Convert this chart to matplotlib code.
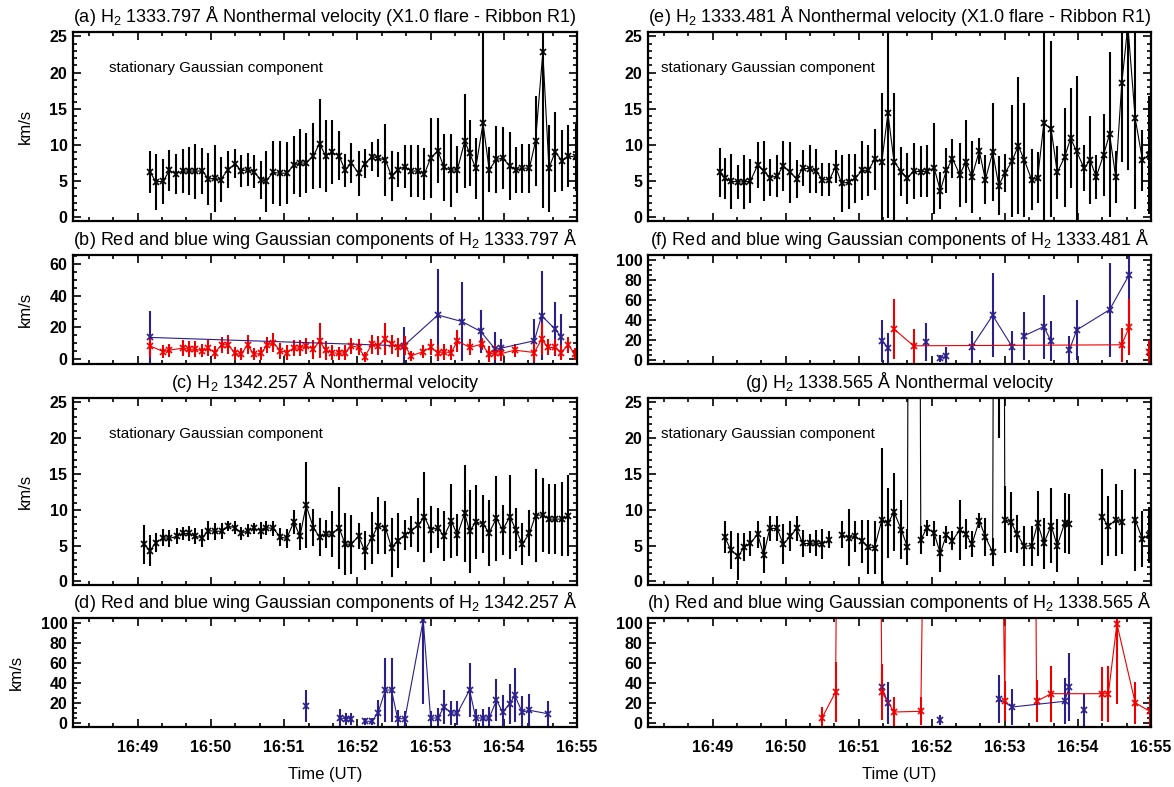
import numpy as np
import matplotlib
matplotlib.use('Agg')
import matplotlib.pyplot as plt
from matplotlib.ticker import MultipleLocator, FuncFormatter

plt.rcParams['font.family'] = ['Liberation Sans', 'DejaVu Sans']
plt.rcParams['mathtext.fontset'] = 'custom'
plt.rcParams['mathtext.rm'] = 'Liberation Sans'
plt.rcParams['mathtext.it'] = 'Liberation Sans:italic'
plt.rcParams['mathtext.bf'] = 'Liberation Sans:bold'

# ---------------- data ----------------
titles = [
    "(a) H$_2$ 1333.797 Å Nonthermal velocity (X1.0 flare - Ribbon R1)",
    "(b) Red and blue wing Gaussian components of H$_2$ 1333.797 Å",
    "(c) H$_2$ 1342.257 Å Nonthermal velocity",
    "(d) Red and blue wing Gaussian components of H$_2$ 1342.257 Å",
    "(e) H$_2$ 1333.481 Å Nonthermal velocity (X1.0 flare - Ribbon R1)",
    "(f) Red and blue wing Gaussian components of H$_2$ 1333.481 Å",
    "(g) H$_2$ 1338.565 Å Nonthermal velocity",
    "(h) Red and blue wing Gaussian components of H$_2$ 1338.565 Å",
]
annot = "stationary Gaussian component"
xtick_labels = ["16:49", "16:50", "16:51", "16:52", "16:53", "16:54", "16:55"]

# (a) stationary component, H2 1333.797
a_t = ["16:49:10","16:49:15","16:49:21","16:49:26","16:49:31","16:49:37","16:49:42","16:49:47","16:49:53","16:49:58",
       "16:50:03","16:50:08","16:50:14","16:50:20","16:50:25","16:50:30","16:50:35","16:50:41","16:50:45","16:50:51",
       "16:50:57","16:51:02","16:51:08","16:51:13","16:51:18","16:51:24","16:51:29","16:51:34","16:51:39","16:51:45",
       "16:51:50","16:51:55","16:52:01","16:52:06","16:52:12","16:52:17","16:52:23","16:52:28","16:52:33","16:52:39",
       "16:52:44","16:52:50","16:52:55","16:53:00","16:53:06","16:53:11","16:53:17","16:53:22","16:53:28","16:53:32",
       "16:53:37","16:53:43","16:53:48","16:53:54","16:53:59","16:54:05","16:54:10","16:54:15","16:54:21","16:54:26",
       "16:54:32","16:54:37","16:54:42","16:54:48","16:54:53","16:54:59"]
a_v = [6.3,4.9,5.0,6.5,6.0,6.4,6.4,6.4,6.4,5.3, 5.4,5.2,6.6,7.4,6.4,6.6,6.3,5.2,5.0,6.2,
       6.1,6.1,7.2,7.5,7.5,8.5,10.2,8.5,9.0,8.5, 6.5,7.5,6.1,7.4,8.4,8.2,7.9,5.7,6.6,7.0,
       6.4,6.4,6.0,8.2,9.2,6.9,6.5,6.6,10.5,8.9, 6.8,13.0,6.6,8.0,8.2,7.1,6.5,6.8,6.8,10.5,
       22.8,6.8,9.0,7.8,8.5,8.3]
a_e = [2.9,3.9,3.1,2.8,2.8,3.1,3.3,3.8,3.2,3.6, 4.6,3.1,2.5,2.0,2.2,2.3,2.3,2.6,4.2,4.3,
       4.5,4.3,4.0,4.7,4.1,4.6,6.2,5.0,4.4,3.4, 2.3,2.8,3.1,2.0,2.0,2.6,5.0,3.5,2.4,3.0,
       3.6,3.6,3.6,5.5,4.5,4.6,5.0,3.2,6.5,4.5, 4.2,14.0,3.1,4.6,4.3,4.7,3.2,3.4,3.4,6.2,
       21.5,6.0,5.5,4.2,4.3,4.6]

# (b) wing components, H2 1333.797
b_blue_t = ["16:49:10","16:52:38","16:53:06","16:53:26","16:53:41","16:53:53","16:53:58","16:54:25","16:54:31","16:54:42","16:54:47"]
b_blue_v = [13.7,8.4,27.8,23.6,17.5,6.3,7.0,11.6,27.4,19.0,14.1]
b_blue_e = [16.5,11.6,29.0,25.0,13.4,10.5,5.8,13.7,28.0,16.8,14.2]
b_red_t = ["16:49:10","16:49:21","16:49:26","16:49:37","16:49:42","16:49:47","16:49:53","16:49:58","16:50:03","16:50:09",
           "16:50:14","16:50:20","16:50:25","16:50:30","16:50:35","16:50:41","16:50:46","16:50:51","16:50:57","16:51:02",
           "16:51:08","16:51:13","16:51:18","16:51:24","16:51:29","16:51:34","16:51:39","16:51:45","16:51:50","16:51:55",
           "16:52:01","16:52:06","16:52:12","16:52:17","16:52:23","16:52:28","16:52:33","16:52:39","16:52:44","16:52:54",
           "16:53:00","16:53:06","16:53:11","16:53:17","16:53:22","16:53:32","16:53:42","16:53:48","16:53:53","16:53:58",
           "16:54:09","16:54:25","16:54:31","16:54:36","16:54:42","16:54:47","16:54:53","16:54:58"]
b_red_v = [8.4,4.8,5.7,7.0,6.3,6.3,5.3,7.0,4.2,9.1, 9.1,3.6,3.2,9.1,3.2,3.6,8.8,10.5,5.3,4.2,
           7.0,7.0,8.4,6.3,11.6,5.7,4.2,3.6,4.2,8.4, 7.4,1.5,9.5,8.4,12.6,9.5,7.4,8.4,2.1,4.8,
           7.4,4.2,4.6,4.2,11.6,7.4,9.5,3.2,4.2,3.6, 5.7,4.2,12.6,7.4,7.4,4.2,9.1,3.2]
b_red_e = [7,4,4,5,5,5,4,5,4,5, 6,4,4,6,4,4,5,6,5,5,
           5,5,5,6,11,6,5,4,5,5, 5,3,6,6,10,6,6,6,3,4,
           5,5,5,5,7,5,4,5,5,5, 4,6,10,5,5,5,5,4]

# (c) stationary component, H2 1342.257
c_t = ["16:49:05","16:49:10","16:49:15","16:49:21","16:49:26","16:49:32","16:49:37","16:49:42","16:49:47","16:49:53",
       "16:49:58","16:50:03","16:50:09","16:50:14","16:50:20","16:50:25","16:50:30","16:50:35","16:50:41","16:50:45",
       "16:50:51","16:50:57","16:51:02","16:51:08","16:51:13","16:51:18","16:51:24","16:51:29","16:51:34","16:51:39",
       "16:51:45","16:51:50","16:51:55","16:52:01","16:52:06","16:52:12","16:52:17","16:52:23","16:52:28","16:52:33",
       "16:52:39","16:52:44","16:52:50","16:52:55","16:53:00","16:53:06","16:53:11","16:53:17","16:53:22","16:53:28",
       "16:53:32","16:53:37","16:53:43","16:53:48","16:53:54","16:53:59","16:54:05","16:54:10","16:54:15","16:54:21",
       "16:54:26","16:54:32","16:54:37","16:54:42","16:54:48","16:54:53"]
c_v = [5.2,4.3,5.4,6.1,6.0,6.3,6.7,6.7,6.3,6.1, 7.1,7.0,7.0,7.7,7.5,6.7,7.1,7.4,7.1,7.5,
       7.4,6.2,6.0,8.3,6.3,10.6,7.5,6.2,6.6,6.6, 7.5,5.2,5.2,6.3,4.3,6.1,7.8,7.5,4.7,5.7,
       6.5,7.0,7.9,9.0,7.2,7.5,6.3,8.4,6.5,9.5, 7.0,8.3,8.0,6.8,8.8,7.2,9.0,7.2,5.2,6.7,
       9.2,9.3,8.7,8.7,8.7,9.2]
c_e = [2.7,2.2,1.3,1.2,1.2,1.1,0.9,1.0,1.1,1.25, 1.3,1.2,1.1,0.7,0.9,0.9,0.9,0.8,1.2,1.0,
       1.1,1.3,1.3,1.7,1.9,6.0,2.6,2.6,2.0,3.2, 5.7,4.3,4.1,1.8,2.7,3.6,4.0,3.7,4.1,3.8,
       2.1,2.2,3.8,6.3,3.3,2.8,3.5,5.2,2.9,6.8, 5.8,5.2,4.1,4.6,5.9,3.5,5.9,3.0,2.9,3.2,
       6.5,5.2,4.9,4.9,5.2,5.6]

# (d) wing components, H2 1342.257 (blue only; None = no fit)
d_blue_t = ["16:51:18","16:51:35","16:51:46","16:51:51","16:51:55","16:52:00","16:52:06","16:52:12","16:52:17","16:52:23",
            "16:52:28","16:52:33","16:52:39","16:52:54","16:53:00","16:53:06","16:53:11","16:53:17","16:53:22","16:53:32",
            "16:53:37","16:53:43","16:53:48","16:53:54","16:53:59","16:54:05","16:54:09","16:54:15","16:54:21","16:54:36"]
d_blue_v = [17.0,None,5.0,4.3,4.3,None,1.7,1.7,10.3,33.0, 33.0,4.3,4.3,103.0,5.0,5.0,16.0,10.0,10.0,33.0,
            5.0,5.0,5.0,22.7,11.0,19.3,27.7,11.0,12.7,9.3]
d_blue_e = [16,None,9,6,6,None,3.5,3.5,13,32, 32,9,8,84,7,10,17,12,12,27,
            9,9,11,21,17,20,27,16,16,13]

# (e) stationary component, H2 1333.481
e_t = ["16:49:06","16:49:10","16:49:15","16:49:21","16:49:26","16:49:31","16:49:37","16:49:42","16:49:47","16:49:53",
       "16:49:58","16:50:04","16:50:09","16:50:14","16:50:20","16:50:25","16:50:30","16:50:36","16:50:41","16:50:46",
       "16:50:52","16:50:57","16:51:03","16:51:08","16:51:13","16:51:19","16:51:24","16:51:29","16:51:35","16:51:40",
       "16:51:45","16:51:51","16:51:56","16:52:02","16:52:07","16:52:12","16:52:17","16:52:23","16:52:28","16:52:33",
       "16:52:39","16:52:44","16:52:50","16:52:55","16:53:00","16:53:06","16:53:11","16:53:16","16:53:22","16:53:27",
       "16:53:32","16:53:38","16:53:43","16:53:49","16:53:54","16:53:59","16:54:05","16:54:10","16:54:15","16:54:21",
       "16:54:26","16:54:31","16:54:36","16:54:41","16:54:47","16:54:53","16:54:58"]
e_v = [6.2,5.4,5.0,4.9,4.9,5.0,7.2,6.4,5.5,5.7, 7.1,6.2,5.3,6.8,6.7,6.4,5.2,5.2,7.0,4.7,
       4.9,5.4,6.5,6.5,8.0,7.7,14.4,7.7,6.3,5.4, 6.4,6.3,6.4,6.8,3.7,6.5,8.1,5.9,7.7,5.6,
       9.2,5.2,9.0,4.4,6.1,7.8,9.9,7.9,5.2,5.5, 13.0,12.2,6.2,8.3,10.9,9.1,6.8,7.9,5.6,8.6,
       11.5,5.6,18.5,26.5,13.7,7.9,8.6]
e_e = [3.4,2.8,3.8,2.3,3.7,3.0,3.2,4.2,2.6,2.9, 3.4,4.2,2.6,2.5,3.3,3.0,2.3,2.3,2.3,3.9,
       3.8,3.4,4.1,3.5,4.2,9.5,14.5,9.5,3.4,3.5, 3.9,3.5,3.6,6.3,2.6,3.1,2.7,4.4,5.7,5.0,
       1.8,3.4,6.8,4.1,2.6,7.7,9.5,7.9,4.2,3.5, 14.0,12.2,3.6,6.8,6.9,10.4,3.2,6.1,3.0,5.7,
       11.4,3.6,10.8,20.0,12.5,4.2,8.2]

# (f) wing components, H2 1333.481
f_blue_t = ["16:51:19","16:51:24","16:51:35","16:51:55","16:52:00","16:52:07","16:52:12","16:52:20","16:52:33","16:52:50",
            "16:53:06","16:53:10","16:53:16","16:53:32","16:53:38","16:53:45","16:53:53","16:53:59","16:54:26","16:54:42"]
f_blue_v = [19.3,12.5,None,17.6,None,1.7,4.0,None,13.5,44.6, 13.2,None,24.3,33.4,18.6,None,10.0,30.0,50.3,85.0]
f_blue_e = [21,15,None,19,None,3.5,9,None,16,42, 16,None,24,32,20,None,14,30,47,57]
f_red_t = ["16:51:29","16:51:45","16:54:36","16:54:42","16:54:50","16:54:58"]
f_red_v = [31.0,14.2,15.2,32.8,None,8.4]
f_red_e = [30,17,17,28,None,12]

# (g) stationary component, H2 1338.565 (None = no fit)
g_t = ["16:49:10","16:49:15","16:49:21","16:49:26","16:49:31","16:49:37","16:49:42","16:49:47","16:49:53","16:49:58",
       "16:50:04","16:50:09","16:50:14","16:50:20","16:50:25","16:50:30","16:50:36","16:50:41","16:50:46","16:50:52",
       "16:50:57","16:51:03","16:51:08","16:51:13","16:51:19","16:51:24","16:51:29","16:51:35","16:51:40","16:51:45",
       "16:51:51","16:51:56","16:52:02","16:52:07","16:52:12","16:52:17","16:52:23","16:52:28","16:52:33","16:52:39",
       "16:52:44","16:52:50","16:52:55","16:53:00","16:53:05","16:53:10","16:53:16","16:53:22","16:53:27","16:53:32",
       "16:53:38","16:53:43","16:53:49","16:53:53","16:54:00","16:54:20","16:54:25","16:54:31","16:54:36","16:54:41",
       "16:54:47","16:54:53","16:54:58"]
g_v = [6.2,4.4,3.5,4.8,5.3,6.6,3.7,7.4,7.4,5.2, 6.3,7.4,5.3,5.3,5.4,5.2,5.8,None,6.5,6.1,
       6.3,5.6,4.8,4.7,8.6,8.1,9.7,7.2,4.8,300.0, 5.8,7.5,6.7,3.9,6.5,5.7,7.2,6.6,5.2,8.5,
       6.2,4.1,300.0,8.6,8.3,6.6,4.9,5.0,8.1,5.3, 7.8,5.0,8.1,8.0,None,9.0,7.7,8.6,8.3,None,
       8.6,5.9,6.5]
g_e = [2.3,2.6,3.3,1.9,1.8,1.9,2.5,1.8,1.8,2.8, 2.1,1.7,1.9,1.3,1.8,2.1,1.2,None,1.9,4.0,
       2.2,3.0,3.8,3.7,10.0,4.9,5.5,4.1,2.5,200.0, 2.0,1.1,1.8,2.6,1.2,1.3,4.2,2.1,1.8,1.1,
       2.6,2.0,280.0,4.7,4.2,2.7,2.8,2.8,4.5,3.5, 5.2,3.7,4.2,4.2,None,6.7,4.2,5.0,4.5,None,
       7.1,3.9,3.9]

# (h) wing components, H2 1338.565
h_blue_t = ["16:51:19","16:51:24","16:51:45","16:52:07","16:52:30","16:52:55","16:53:06","16:53:49","16:53:53","16:54:00","16:54:05"]
h_blue_v = [36.0,20.3,None,2.7,None,24.3,16.0,21.7,36.0,None,12.7]
h_blue_e = [22,21,None,5,None,24,18,23,34,None,16]
h_red_t = ["16:50:30","16:50:41","16:51:00","16:51:19","16:51:29","16:51:51","16:52:25","16:53:00","16:53:13","16:53:26",
           "16:53:38","16:54:20","16:54:25","16:54:32","16:54:47","16:54:59"]
h_red_v = [5.3,31.0,3000.0,31.0,11.0,11.7,3000.0,21.7,3000.0,21.7, 29.3,29.3,29.3,99.3,20.3,11.7]
h_red_e = [11,30,None,28,15,14,None,20,None,21, 28,27,28,80,21,16]

# ---------------- helpers ----------------
def tmin(lst):
    out = []
    for s in lst:
        h, m, sec = s.split(':')
        out.append((int(h) - 16) * 60 + int(m) + int(sec) / 60.0)
    return np.array(out)

def arr(lst):
    return np.array([np.nan if v is None else v for v in lst], dtype=float)

BLACK = '#000000'
RED = '#ee0000'
BLUE = '#2b1f8c'

XMIN = 48 + 7 / 60.0
XMAX = 55.0

def series(ax, t, v, e, color):
    ax.errorbar(tmin(t), arr(v), yerr=arr(e), color=color, lw=0.8,
                elinewidth=1.5, marker='x', ms=3.8, mew=1.2, capsize=0,
                ecolor=color)

def setup(ax, ylim, major, minor, title, ylabel, xlabels, annot_x=None):
    ax.set_xlim(XMIN, XMAX)
    ax.set_ylim(*ylim)
    ax.xaxis.set_major_locator(MultipleLocator(1))
    ax.xaxis.set_minor_locator(MultipleLocator(1 / 3.0))
    ax.yaxis.set_major_locator(MultipleLocator(major))
    ax.yaxis.set_minor_locator(MultipleLocator(minor))
    ax.xaxis.set_major_formatter(FuncFormatter(
        lambda x, p: xtick_labels[int(round(x)) - 49] if 49 <= round(x) <= 55 else ''))
    ax.tick_params(which='both', direction='in', top=True, right=True, width=1.2)
    ax.tick_params(which='major', length=5.5)
    ax.tick_params(which='minor', length=3)
    ax.tick_params(axis='y', labelsize=11.5, pad=4)
    ax.tick_params(axis='x', labelsize=11.5, pad=9, labelbottom=xlabels)
    for lab in ax.get_yticklabels() + ax.get_xticklabels():
        lab.set_fontweight('bold')
    for sp in ax.spines.values():
        sp.set_linewidth(1.6)
    ax.set_title(title, fontsize=13, pad=7)
    if ylabel:
        ax.set_ylabel('km/s', fontsize=12, labelpad=12)
    if xlabels:
        ax.set_xlabel('Time (UT)', fontsize=12, labelpad=9)
    if annot_x is not None:
        ax.text(annot_x, 20.6, annot, transform=ax.get_yaxis_transform(),
                fontsize=11, va='center', ha='left')

# ---------------- figure ----------------
fig = plt.figure(figsize=(11.74, 7.87), dpi=100)
H = 787.0
W = 1174.0
rows = [(32, 221), (255, 364), (398, 585), (618, 727)]
cols = [(73, 577), (648, 1151)]

def make_ax(r, c):
    y0, y1 = rows[r]
    x0, x1 = cols[c]
    return fig.add_axes([x0 / W, 1 - y1 / H, (x1 - x0) / W, (y1 - y0) / H])

tall = (-0.5, 25.6)
axa = make_ax(0, 0); axb = make_ax(1, 0); axc = make_ax(2, 0); axd = make_ax(3, 0)
axe = make_ax(0, 1); axf = make_ax(1, 1); axg = make_ax(2, 1); axh = make_ax(3, 1)

series(axa, a_t, a_v, a_e, BLACK)
series(axb, b_blue_t, b_blue_v, b_blue_e, BLUE)
series(axb, b_red_t, b_red_v, b_red_e, RED)
series(axc, c_t, c_v, c_e, BLACK)
series(axd, d_blue_t, d_blue_v, d_blue_e, BLUE)
series(axe, e_t, e_v, e_e, BLACK)
series(axf, f_blue_t, f_blue_v, f_blue_e, BLUE)
series(axf, f_red_t, f_red_v, f_red_e, RED)
series(axg, g_t, g_v, g_e, BLACK)
series(axh, h_blue_t, h_blue_v, h_blue_e, BLUE)
series(axh, h_red_t, h_red_v, h_red_e, RED)

setup(axa, tall, 5, 1, titles[0], True, False, annot_x=0.072)
setup(axb, (-3, 65.5), 20, 5, titles[1], True, False)
setup(axc, tall, 5, 1, titles[2], True, False, annot_x=0.072)
setup(axd, (-4, 105), 20, 5, titles[3], True, True)
setup(axe, tall, 5, 1, titles[4], False, False, annot_x=0.026)
setup(axf, (-4, 105), 20, 5, titles[5], False, False)
setup(axg, tall, 5, 1, titles[6], False, False, annot_x=0.026)
setup(axh, (-4, 105), 20, 5, titles[7], False, True)

fig.savefig('out.png', dpi=100)
